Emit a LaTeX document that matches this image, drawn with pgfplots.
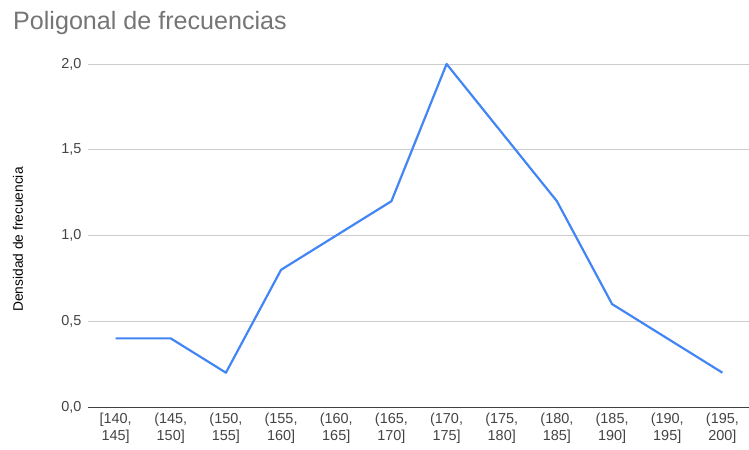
\documentclass[border=0pt]{standalone}
\usepackage{pgfplots}
\pgfplotsset{compat=1.18}
\usepackage{fontspec}
\setmainfont{Liberation Sans}
\definecolor{lineblue}{HTML}{4285F4}
\definecolor{titlegray}{HTML}{757575}
\definecolor{ticktext}{HTML}{444444}
\definecolor{gridgray}{HTML}{CCCCCC}
\begin{document}
\begin{tikzpicture}
\path[use as bounding box] (0,0) rectangle (749bp,450bp);
\node[anchor=west, text=titlegray, font=\fontsize{25.2}{29}\selectfont, inner sep=0pt] at (13bp,427bp) {Poligonal de frecuencias};
\begin{axis}[
  at={(88bp,43bp)}, anchor=south west,
  scale only axis, width=662bp, height=343bp,
  xmin=-0.5, xmax=11.5, ymin=0, ymax=2,
  axis line style={draw=none},
  ytick={0,0.5,1,1.5,2},
  ymajorgrids, grid style={gridgray, line width=0.8pt},
  major tick length=0pt,
  xtick={0,...,11},
  xticklabels={{[140,\\145]},{(145,\\150]},{(150,\\155]},{(155,\\160]},{(160,\\165]},{(165,\\170]},{(170,\\175]},{(175,\\180]},{(180,\\185]},{(185,\\190]},{(190,\\195]},{(195,\\200]}},
  xticklabel style={align=center, text=ticktext, font=\fontsize{14.5}{17}\selectfont, yshift=-3bp},
  yticklabel style={text=ticktext, font=\fontsize{14.5}{17}\selectfont, xshift=-3bp},
  /pgf/number format/.cd, use comma, fixed, fixed zerofill, precision=1, assume math mode=true,
  /pgfplots/.cd,
  ylabel={Densidad de frecuencia},
  ylabel style={font=\fontsize{13.8}{16}\selectfont, text=black, at={(rel axis cs:0,0.5)}, anchor=center, yshift=70bp, xshift=-4bp},
  clip=false,
]
\draw[color=black!75, line width=1pt] (axis cs:-0.5,0) -- (axis cs:11.5,0);
\addplot[color=lineblue, line width=2.2pt, line join=round] coordinates {
(0,0.4) (1,0.4) (2,0.2) (3,0.8) (4,1.0) (5,1.2) (6,2.0) (7,1.6) (8,1.2) (9,0.6) (10,0.4) (11,0.2)
};
\end{axis}
\end{tikzpicture}
\end{document}
